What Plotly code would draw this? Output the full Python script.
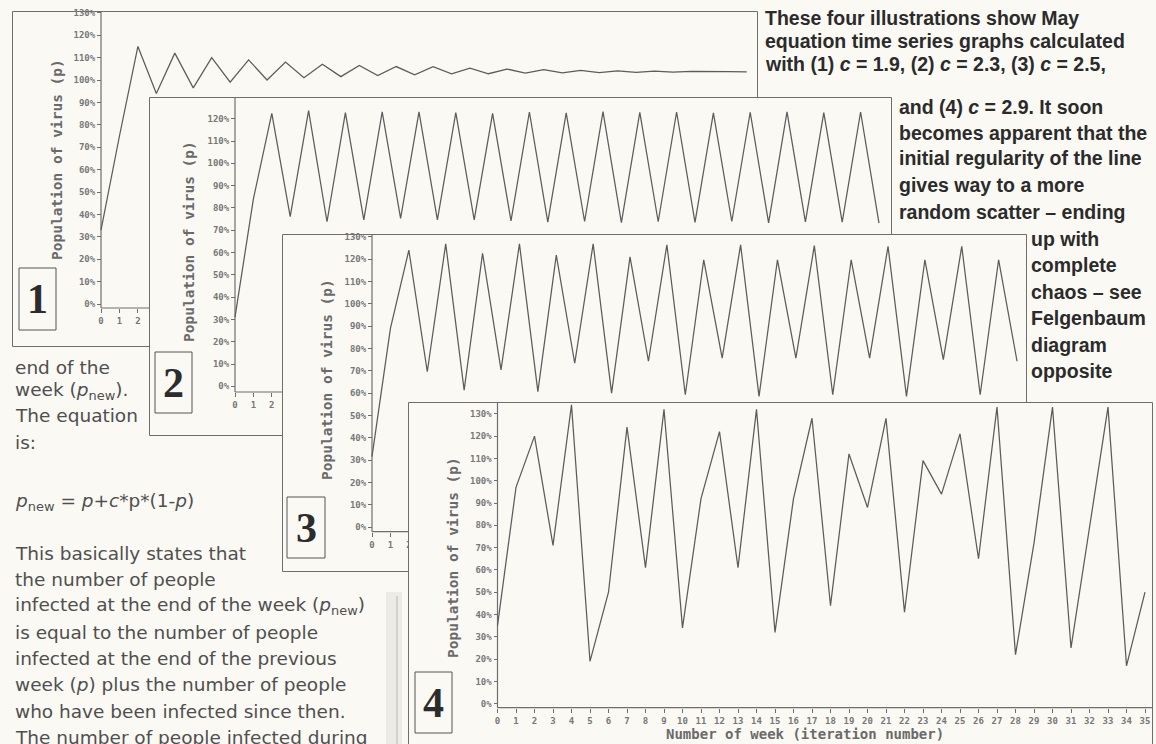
import plotly.graph_objects as go

W, H = 1156, 744
BG = "#faf9f4"
INK = "#5c5c5c"
AXIS = "#6e6e6e"

# weeks (iteration number) and population of virus in % for each value of c
weeks = list(range(36))
pop_c19 = [33, 75, 115, 94, 112, 96.5, 110, 99, 109, 100, 108, 101, 107, 101.5, 106.5, 102,
           106, 102.3, 105.9, 102.7, 105.3, 102.8, 104.9, 103.1, 104.6, 103.2, 104.3, 103.3,
           104.1, 103.4, 104.0, 103.5, 103.8, 103.6, 103.7, 103.6]
pop_c23 = [31, 84, 122.4, 76.1, 123.6, 73.8, 122.7, 74.6, 123.1, 75.3, 123.1, 74.6, 122.7, 74.6,
           122.4, 74.2, 123.0, 73.6, 122.6, 73.9, 123.2, 73.4, 122.8, 73.8, 123.0, 73.5, 122.6,
           73.9, 122.9, 73.3, 123.1, 73.7, 122.7, 73.6, 123.0, 73.2]
pop_c25 = [31.6, 89, 124, 69.6, 126.8, 61.4, 122.6, 70.4, 126.8, 60.7, 121.8, 73.4, 126.8, 60,
           121, 74.3, 126.4, 59.3, 119.7, 75.7, 126.4, 58.6, 119.7, 75.7, 126, 59.3, 119.7, 75.7,
           125.7, 58.6, 119.7, 75, 125.7, 59.3, 119.7, 74.3]
pop_c29 = [35, 97, 120, 71, 134, 19, 50, 124, 61, 132, 34, 92, 122, 61, 132, 32, 92, 128, 44,
           112, 88, 128, 41, 109, 94, 121, 65, 133, 22, 72, 133, 25, 79, 133, 17, 50]

pct_ticks = list(range(0, 140, 10))
pct_labels = [f"{v}%" for v in pct_ticks]
panel_numbers = ["1", "2", "3", "4"]
series = [pop_c19, pop_c23, pop_c25, pop_c29]
# week ticks left uncovered by the next panel
visible_weeks = [weeks[:3], weeks[:3], weeks[:3], weeks]

# page geometry of each panel (pixels): outer box, week-0 x, px per week,
# 0% y, px per %, x-axis line y, number box, y-title centre
frames = [
    dict(box=(12, 11, 758, 347), x0=101, sx=18.45, y0=304, sy=2.24, axis=308,
         num=(19, 268, 56, 330), title=(57, 160)),
    dict(box=(149, 97, 892, 436), x0=235, sx=18.4, y0=386.3, sy=2.23, axis=392,
         num=(155, 352, 192, 413), title=(189, 242)),
    dict(box=(282, 234, 1027, 572), x0=372, sx=18.43, y0=527.3, sy=2.235, axis=531.7,
         num=(287, 497, 325, 558), title=(327, 380)),
    dict(box=(408, 402, 1153, 780), x0=497.5, sx=18.5, y0=703.7, sy=2.23, axis=707.7,
         num=(415, 672, 452, 733), title=(453, 558)),
]

tick_font = dict(family="DejaVu Sans Mono", size=9, color="#777777", weight="bold")

fig = go.Figure()
shapes = []
annotations = []

for i, (vals, fr) in enumerate(zip(series, frames)):
    n = "" if i == 0 else str(i + 1)
    l, t, r, b = fr["box"]
    # the first panel spans the page so every later panel counts as overlapping
    dl, dt, dr, db = (0, 0, W, H) if i == 0 else (l, t, r, min(b, H))
    x0, sx, y0, sy = fr["x0"], fr["sx"], fr["y0"], fr["sy"]

    def dx(px):
        return (px - x0) / sx

    def dy(py):
        return (y0 - py) / sy

    fig.add_trace(go.Scatter(
        x=weeks, y=vals, mode="lines",
        line=dict(color=INK, width=1.25),
        xaxis="x" + n, yaxis="y" + n,
        hoverinfo="skip", showlegend=False
    ))

    fig.update_layout({
        "xaxis" + n: dict(
            domain=[dl / W, dr / W], range=[dx(dl), dx(dr)],
            anchor="free", position=1 - fr["axis"] / H,
            tickmode="array", tickvals=visible_weeks[i],
            ticktext=[str(w) for w in visible_weeks[i]],
            ticks="outside", ticklen=4, tickcolor=AXIS, tickfont=tick_font,
            showgrid=False, zeroline=False, showline=False, fixedrange=True
        ),
        "yaxis" + n: dict(
            domain=[1 - db / H, 1 - dt / H], range=[dy(db), dy(dt)],
            anchor="free", position=x0 / W,
            tickmode="array", tickvals=pct_ticks, ticktext=pct_labels,
            ticks="outside", ticklen=4, tickcolor=AXIS, tickfont=tick_font,
            showgrid=False, zeroline=False, showline=False, fixedrange=True
        ),
    })

    ref = dict(xref="x" + n, yref="y" + n, layer="below")
    shapes.append(dict(type="rect", x0=dx(l + 0.5), x1=dx(r - 0.5), y0=dy(b - 0.5), y1=dy(t + 0.5),
                       line=dict(color=AXIS, width=1), **ref))
    shapes.append(dict(type="line", x0=0, x1=0, y0=dy(fr["axis"]), y1=dy(t),
                       line=dict(color=AXIS, width=1.2), **ref))
    shapes.append(dict(type="line", x0=0, x1=dx(r), y0=dy(fr["axis"]), y1=dy(fr["axis"]),
                       line=dict(color=AXIS, width=1.2), **ref))
    nl, nt, nr, nb = fr["num"]
    shapes.append(dict(type="rect", x0=dx(nl), x1=dx(nr), y0=dy(nb), y1=dy(nt),
                       line=dict(color="#555555", width=1), **ref))

    annotations.append(dict(
        text=panel_numbers[i], x=(nl + nr) / 2 / W, y=1 - (nt + nb) / 2 / H,
        xref="paper", yref="paper", showarrow=False, xanchor="center", yanchor="middle",
        font=dict(family="Liberation Serif", size=42, color="#2c2c2c", weight="bold")
    ))
    annotations.append(dict(
        text="Population of virus (p)", textangle=-90,
        x=fr["title"][0] / W, y=1 - fr["title"][1] / H,
        xref="paper", yref="paper", showarrow=False, xanchor="center", yanchor="middle",
        font=dict(family="DejaVu Sans Mono", size=14.5, color="#6a6a6a", weight="bold")
    ))

annotations.append(dict(
    text="Number of week (iteration number)", x=805 / W, y=1 - 734 / H,
    xref="paper", yref="paper", showarrow=False, xanchor="center", yanchor="middle",
    font=dict(family="DejaVu Sans Mono", size=14, color="#6a6a6a", weight="bold")
))

# caption text (right, bold) and body text (left)
caption_lines = [
    ("These four illustrations show May", 763, 18),
    ("equation time series graphs calculated", 763, 41),
    ("with (1) <i>c</i> = 1.9, (2) <i>c</i> = 2.3, (3) <i>c</i> = 2.5,", 763, 64),
    ("and (4) <i>c</i> = 2.9. It soon", 897, 107),
    ("becomes apparent that the", 897, 133),
    ("initial regularity of the line", 897, 158),
    ("gives way to a more", 897, 185),
    ("random scatter – ending", 897, 212),
    ("up with", 1029, 239),
    ("complete", 1029, 265),
    ("chaos – see", 1029, 292),
    ("Felgenbaum", 1029, 318),
    ("diagram", 1029, 345),
    ("opposite", 1029, 371),
]
body_lines = [
    ("end of the", 367),
    ("week (<i>p</i><sub>new</sub>).", 391),
    ("The equation", 416),
    ("is:", 442),
    ("<i>p</i><sub>new</sub> = <i>p</i>+<i>c</i>*p*(1-<i>p</i>)", 502),
    ("This basically states that", 553),
    ("the number of people", 579),
    ("infected at the end of the week (<i>p</i><sub>new</sub>)", 606),
    ("is equal to the number of people", 632),
    ("infected at the end of the previous", 658),
    ("week (<i>p</i>) plus the number of people", 684),
    ("who have been infected since then.", 711),
    ("The number of people infected during", 737),
]

for text, x, y in caption_lines:
    annotations.append(dict(
        text=text, x=x / W, y=1 - y / H, xref="paper", yref="paper",
        showarrow=False, xanchor="left", yanchor="middle",
        font=dict(family="Liberation Sans", size=19.5, color="#2b2b2b", weight="bold")
    ))

for text, y in body_lines:
    annotations.append(dict(
        text=text, x=13 / W, y=1 - y / H, xref="paper", yref="paper",
        showarrow=False, xanchor="left", yanchor="middle",
        font=dict(family="DejaVu Sans", size=18.5, color="#4f4f4f")
    ))

# page gutter shading of the scan
shapes.append(dict(type="rect", xref="paper", yref="paper", layer="below",
                   x0=386 / W, x1=402 / W, y0=0, y1=1 - 592 / H,
                   fillcolor="#ecebe6", line=dict(width=0)))
shapes.append(dict(type="line", xref="paper", yref="paper", layer="below",
                   x0=397 / W, x1=397 / W, y0=0, y1=1 - 596 / H,
                   line=dict(color="#d2d1cc", width=2)))

fig.update_layout(
    template="none",
    width=W, height=H, autosize=False,
    margin=dict(l=0, r=0, t=0, b=0),
    paper_bgcolor=BG, plot_bgcolor=BG,
    shapes=shapes, annotations=annotations,
    showlegend=False
)

fig.write_html(
    "out.html",
    config={"displayModeBar": False},
    post_script="document.body.style.margin='0px'; document.body.style.background='" + BG + "';"
)
